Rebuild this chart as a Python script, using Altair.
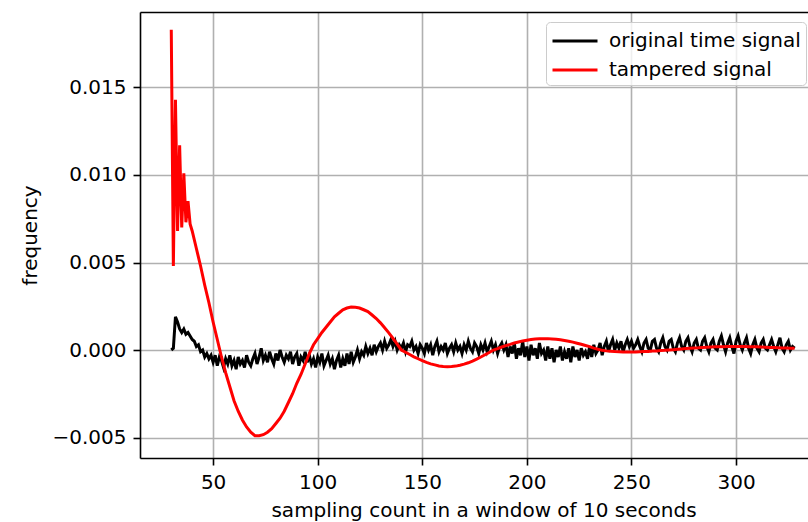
import altair as alt
import pandas as pd

# ---- data (values in units of 1e-4) ----
series_names = ["original time signal", "tampered signal"]
series_colors = ["#000000", "#ff0000"]

# original signal, one sample per count starting at 30
original_e4 = [
    0, 1, 19, 16, 12, 10, 12, 9, 10, 8, 6, 5, 2, 3, -1, 0, -4, -2, -5, -3,
    -7, -3, -9, -4, -6, -10, -5, -8, -3, -9, -6, -11, -4, -8, -6, -10, -3, -7, -9, -5,
    -2, -8, -4, 1, -6, -3, -7, -1, -5, -8, -2, -6, 0, -4, -7, -3, -5, -1, -8, -4,
    -2, -9, -4, -6, -1, -7, -3, -8, -5, -10, -4, -7, -2, -9, -6, -3, -8, -5, -11, -6,
    -3, -10, -5, -9, -2, -8, -1, -7, -4, 0, -5, -1, -3, 2, -2, 1, -3, 3, -1, 2,
    4, 0, 5, 1, 3, 6, 2, 5, 0, 3, 1, 4, -1, 3, 2, 5, 0, 2, -2, 3,
    1, -2, 4, 0, 3, -3, 2, 5, -1, 2, 0, 4, -2, 1, 3, -1, 4, 0, 2, -2,
    3, 0, 5, 1, -1, 4, 2, -2, 3, 0, 4, -1, 2, 5, 0, 3, -2, 2, 4, 0,
    3, -4, 2, -2, 4, -5, 1, -3, 5, -4, 2, -6, 3, -3, 1, -5, 4, -2, 0, -6,
    2, -5, 1, -7, 0, -4, 2, -6, -1, -5, 1, -7, 2, -4, 0, -6, 1, -3, -1, -5,
    2, -4, 3, -2, 0, 4, -3, 2, 5, -1, 3, 6, 0, 4, 1, 5, -1, 3, 6, 2,
    5, 1, 3, 6, 2, -1, 4, 6, 1, 0, 5, 6, 1, -1, 4, 7, 2, 0, 5, 6,
    1, -1, 4, 7, 2, 0, 5, 7, 2, -1, 4, 6, 1, 0, 5, 7, 2, -1, 4, 6,
    1, 0, 5, 8, 3, -1, 4, 7, 2, -2, 5, 8, 3, 0, 4, 7, 1, -2, 3, 6,
    1, -1, 4, 6, 1, 0, 3, 6, 2, -1, 3, 7, 1, -1, 3, 5, 0, 2, 1,
]
original_start = 30

# tampered signal: first ten samples (counts 30..39), then every second count from 40
tampered_head_e4 = [183, 48, 143, 68, 117, 70, 101, 73, 85, 72]
tampered_tail_e4 = [
    68, 58, 48, 37, 27, 16, 6, -4, -13, -21,
    -29, -35, -40, -44, -47, -49, -49, -48.4, -47, -45,
    -42, -39, -35, -30, -25, -19, -14, -8, -2, 3,
    6.5, 10, 13, 16, 19, 21, 23, 24, 24.5, 24.4,
    24, 23, 22, 20, 18, 15.5, 12.7, 9.8, 6.6, 3.3,
    0, -1.3, -2.6, -3.9, -5, -6.1, -7.1, -7.9, -8.5, -9.1,
    -9.4, -9.5, -9.4, -9.2, -8.7, -8.1, -7.3, -6.3, -5.2, -4,
    -2.7, -1.4, 0, 0.8, 1.7, 2.5, 3.2, 4, 4.6, 5.2,
    5.6, 6, 6.3, 6.4, 6.5, 6.5, 6.3, 6.1, 5.8, 5.4,
    5, 4.5, 3.9, 3.3, 2.6, 1.9, 1.1, 0.4, -0.2, -0.5,
    -0.7, -0.9, -1, -1.1, -1.1, -1.1, -1.1, -1, -0.9, -0.8,
    -0.6, -0.5, -0.3, -0.2, 0, 0.2, 0.4, 0.6, 0.8, 1,
    1.2, 1.3, 1.5, 1.6, 1.7, 1.8, 1.9, 1.9, 2, 2,
    2, 2, 2, 1.9, 1.9, 1.8, 1.7, 1.6, 1.5, 1.4,
    1.3, 1.2, 1.1, 1, 1,
]

x_ticks = [50, 100, 150, 200, 250, 300]
y_ticks = [-0.005, 0.0, 0.005, 0.010, 0.015]

# ---- table ----
rows = []
for i, v in enumerate(original_e4):
    rows.append({"x": original_start + i, "y": v * 1e-4, "s": series_names[0], "o": i})
tx = list(range(30, 40)) + list(range(40, 40 + 2 * len(tampered_tail_e4), 2))
tv = tampered_head_e4 + tampered_tail_e4
for i, (a, v) in enumerate(zip(tx, tv)):
    rows.append({"x": a, "y": v * 1e-4, "s": series_names[1], "o": i})
df = pd.DataFrame(rows)

FONT = "DejaVu Sans"
W, H = 668, 446
xscale = alt.Scale(domain=[15.05, 334.4], nice=False, zero=False)
yscale = alt.Scale(domain=[-0.006171, 0.019314], nice=False, zero=False)

common = dict(
    grid=True, gridColor="#b0b0b0", gridWidth=1.6,
    domain=True, domainColor="#000000", domainWidth=1.6,
    ticks=True, tickColor="#000000", tickWidth=1.6, tickSize=7,
    labelPadding=7, labelFontSize=20, labelFont=FONT, labelColor="#000000",
    titleFontSize=20, titleFont=FONT, titleFontWeight="normal", titleColor="#000000",
    labelFlush=False,
)

lines = alt.Chart(df).mark_line(strokeWidth=3, clip=True).encode(
    x=alt.X("x:Q", scale=xscale, axis=alt.Axis(
        orient="bottom", values=x_ticks, format="d",
        title="sampling count in a window of 10 seconds",
        titleX=343.5, titleAnchor="middle", titlePadding=8, **common)),
    y=alt.Y("y:Q", scale=yscale, axis=alt.Axis(
        orient="left", values=y_ticks, format=".3f", title="frequency",
        titlePadding=11, **common)),
    color=alt.Color("s:N", scale=alt.Scale(domain=series_names, range=series_colors),
                    legend=alt.Legend(
                        orient="none", legendX=406, legendY=10, title=None,
                        symbolType="M-1.8,0L1.8,0", symbolSize=625, symbolStrokeWidth=3,
                        labelFontSize=20, labelFont=FONT, labelColor="#000000",
                        labelLimit=500,
                        labelOffset=20, symbolOffset=10,
                        fillColor="rgba(255,255,255,0.8)", strokeColor="#cccccc",
                        cornerRadius=4, padding=5, rowPadding=5)),
    order="o:Q",
)

top = alt.Chart(df).mark_line(opacity=0).encode(
    x=alt.X("x:Q", scale=xscale, axis=alt.Axis(
        orient="top", labels=False, ticks=False, grid=False, title=None,
        domain=True, domainColor="#000000", domainWidth=1.6)),
    y=alt.Y("y:Q", scale=yscale, axis=None),
    detail="s:N",
)

chart = alt.layer(lines, top).resolve_axis(x="independent", y="independent").properties(
    width=W, height=H,
    padding={"left": 140, "top": 12, "right": 0, "bottom": 64},
    autosize=alt.AutoSizeParams(type="none"),
).configure_view(stroke=None).configure(font=FONT)

chart.save("out.html", embed_options={"renderer": "svg", "actions": False})
